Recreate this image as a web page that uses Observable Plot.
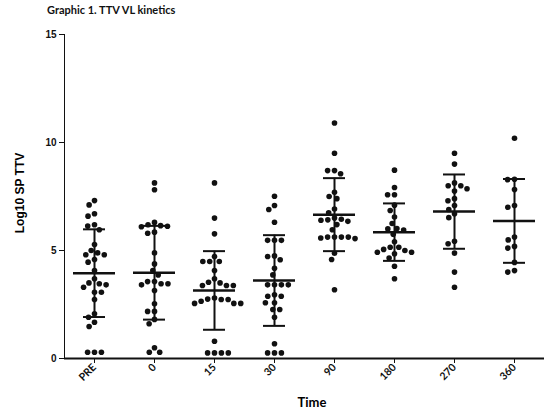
<!DOCTYPE html>
<html><head><meta charset="utf-8">
<script src="https://cdn.jsdelivr.net/npm/d3@7"></script>
<script src="https://cdn.jsdelivr.net/npm/@observablehq/plot@0.6"></script>
<style>
body{margin:0;background:#fff;}
#wrap{position:relative;width:549px;height:409px;}
#title{position:absolute;left:47px;top:3px;font:bold 11px Lato, sans-serif;color:#111;white-space:nowrap;}
#ylab{position:absolute;left:20px;top:193px;transform:translate(-50%,-50%) rotate(-90deg);font:bold 12px "Liberation Sans", Arial, sans-serif;white-space:nowrap;}
#xlab{position:absolute;left:312px;top:402px;transform:translate(-50%,-50%);font:bold 13px Lato, sans-serif;white-space:nowrap;}
g[aria-label="fx-axis tick label"] text{font-family:Lato, sans-serif;font-size:10.5px;}
</style></head>
<body><div id="wrap"></div>
<script>
const times = ["PRE","0","15","30","90","180","270","360"];
const valuesPRE = [7.31, 7.11, 6.70, 6.59, 6.19, 6.13, 5.96, 5.28, 5.00, 4.89, 4.80, 4.80, 4.58, 4.46, 4.07, 3.69, 3.50, 3.46, 3.41, 3.30, 3.07, 3.07, 2.73, 2.07, 1.91, 1.68, 1.48, 0.29, 0.29, 0.29];
const values0 = [8.13, 7.81, 6.30, 6.19, 6.15, 6.12, 6.10, 5.85, 5.80, 4.89, 4.38, 4.07, 3.87, 3.56, 3.56, 3.46, 3.46, 3.41, 3.15, 2.53, 2.18, 2.18, 1.81, 1.61, 0.50, 0.29, 0.29];
const values15 = [8.13, 6.50, 5.77, 4.72, 4.49, 4.49, 4.49, 4.07, 3.69, 3.53, 3.50, 3.38, 3.38, 3.38, 2.80, 2.75, 2.73, 2.73, 2.65, 2.55, 2.55, 2.55, 0.80, 0.26, 0.26, 0.26, 0.26];
const values30 = [7.51, 7.08, 6.90, 6.31, 5.47, 5.47, 5.47, 4.75, 4.72, 4.57, 4.18, 3.87, 3.41, 3.41, 3.41, 3.41, 2.95, 2.88, 2.88, 2.58, 2.58, 2.27, 2.27, 1.91, 0.68, 0.26, 0.26, 0.26];
const values90 = [10.90, 9.50, 8.70, 8.70, 8.55, 7.70, 7.50, 7.40, 6.92, 6.75, 6.50, 6.45, 6.42, 6.40, 6.35, 6.20, 5.96, 5.62, 5.62, 5.62, 5.62, 5.58, 5.55, 4.87, 4.58, 3.18];
const values180 = [8.72, 7.92, 7.58, 7.58, 7.10, 6.85, 6.55, 6.25, 6.02, 6.00, 5.95, 5.75, 5.40, 5.15, 5.15, 5.05, 5.00, 4.92, 4.92, 4.85, 4.65, 4.27, 3.69];
const values270 = [9.50, 9.00, 8.13, 8.00, 8.00, 7.86, 7.75, 7.40, 7.30, 7.08, 6.90, 6.70, 6.52, 5.43, 5.31, 4.88, 4.00, 3.30];
const values360 = [10.20, 8.30, 8.28, 7.82, 7.08, 7.00, 5.62, 5.49, 5.19, 5.11, 4.45, 4.07, 4.00];
const means = [3.95, 3.97, 3.15, 3.61, 6.66, 5.85, 6.80, 6.37];
const sds = [2.03, 2.17, 1.82, 2.10, 1.69, 1.33, 1.72, 1.94];
const yTicks = [0, 5, 10, 15];

const groups = [valuesPRE, values0, values15, values30, values90, values180, values270, values360];
const points = groups.flatMap((vals, i) => vals.map(v => ({time: times[i], value: v})));
// offset 0 = centre of each time group (within-facet x scale)
const stats = times.map((t, i) => ({time: t, offset: 0, mean: means[i], lo: means[i] - sds[i], hi: means[i] + sds[i]}));

const chart = Plot.plot({
  width: 549,
  height: 409,
  marginLeft: 62,
  marginRight: 3,
  marginTop: 34,
  marginBottom: 51,
  style: {fontFamily: "'Liberation Sans', Arial, sans-serif", fontSize: "10px", fontWeight: "bold", color: "#111", background: "transparent"},
  fx: {domain: times, padding: 0, axis: "bottom", tickRotate: -45, tickSize: 5, tickPadding: 2, label: null},
  x: {type: "linear", domain: [-1, 1], axis: null},
  y: {domain: [0, 15], ticks: yTicks, tickSize: 5, tickPadding: 3, line: true, label: null, tickFormat: d => String(d)},
  marks: [
    Plot.ruleY([0], {strokeWidth: 2}),
    Plot.ruleX(stats, {fx: "time", x: "offset", y1: "lo", y2: "hi", strokeWidth: 2}),
    Plot.tickY(stats, {fx: "time", y: "mean", strokeWidth: 2.5, insetLeft: 9, insetRight: 9}),
    Plot.tickY(stats, {fx: "time", y: "hi", strokeWidth: 2, insetLeft: 19, insetRight: 19}),
    Plot.tickY(stats, {fx: "time", y: "lo", strokeWidth: 2, insetLeft: 19, insetRight: 19}),
    Plot.dot(points, Plot.dodgeX({anchor: "middle", padding: 1.3}, {fx: "time", y: "value", r: 2.8, fill: "#111", stroke: "none"}))
  ]
});
const wrap = document.getElementById("wrap");
wrap.appendChild(chart);
for (const [id, txt] of [["title", "Graphic 1. TTV VL kinetics"], ["ylab", "Log10 SP TTV"], ["xlab", "Time"]]) {
  const d = document.createElement("div");
  d.id = id; d.textContent = txt; wrap.appendChild(d);
}
</script>
</body></html>
